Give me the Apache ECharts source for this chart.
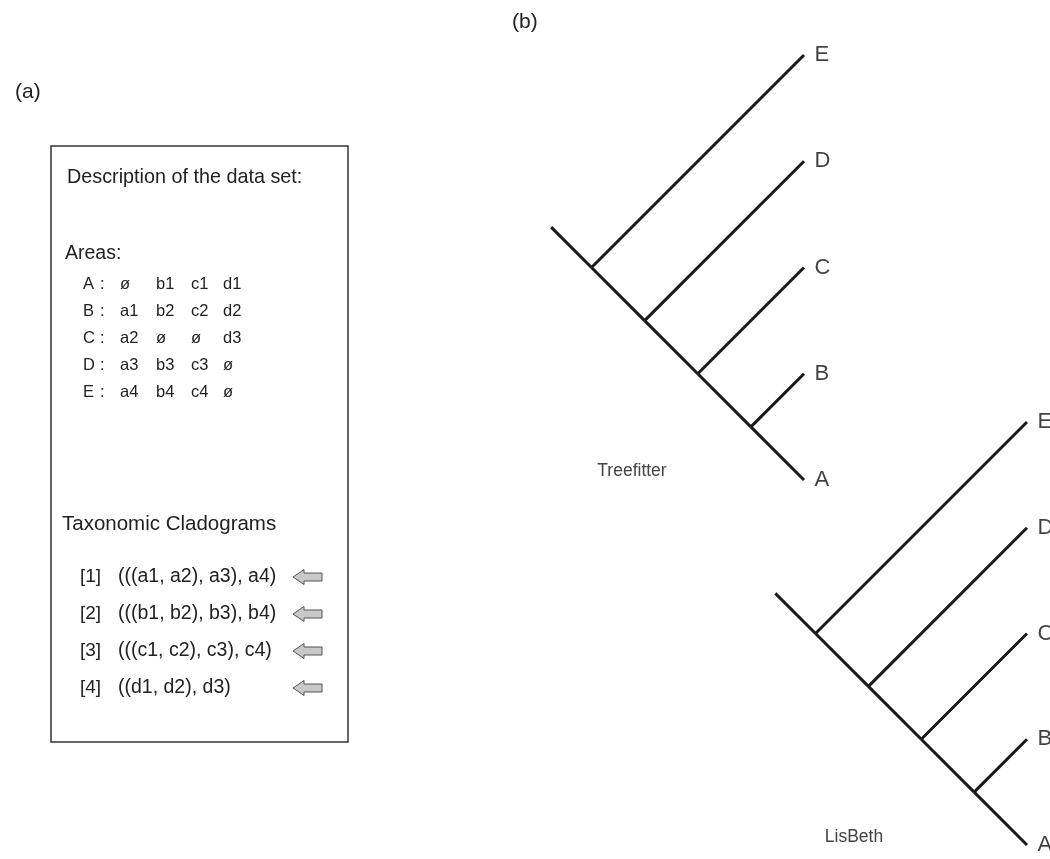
<!DOCTYPE html>
<html><head><meta charset="utf-8">
<script src="https://cdn.jsdelivr.net/npm/echarts@6/dist/echarts.min.js"></script>
<style>html,body{margin:0;padding:0;background:#fff}#c{width:1050px;height:859px}</style>
</head><body><div id="c"></div>
<script>
// ---- data ----
const areaNames = ['A', 'B', 'C', 'D', 'E'];
const areaTaxa = [
  ['ø', 'b1', 'c1', 'd1'],
  ['a1', 'b2', 'c2', 'd2'],
  ['a2', 'ø', 'ø', 'd3'],
  ['a3', 'b3', 'c3', 'ø'],
  ['a4', 'b4', 'c4', 'ø']
];
const cladogramIds = ['[1]', '[2]', '[3]', '[4]'];
const cladograms = ['(((a1, a2), a3), a4)', '(((b1, b2), b3), b4)', '(((c1, c2), c3), c4)', '((d1, d2), d3)'];
const tipLabels = ['A', 'B', 'C', 'D', 'E'];
const treefitterTree = [[[['A', 'B'], 'C'], 'D'], 'E'];
const lisbethTree = [[[['A', 'B'], 'C'], 'D'], 'E'];
const treeNames = ['Treefitter', 'LisBeth'];
const rootStub = 0.38;

// ---- layout helpers ----
const FONT = '"Liberation Sans", Arial, Helvetica, sans-serif';
const TXT = '#222';

function layoutTree(tree) {
  const segs = [];
  function walk(node) {
    if (typeof node === 'string') {
      const r = tipLabels.indexOf(node);
      return { lo: r, hi: r, p: [0, r] };
    }
    const kids = node.map(walk);
    const lo = Math.min(...kids.map(k => k.lo));
    const hi = Math.max(...kids.map(k => k.hi));
    const p = [-(hi - lo) / 2, (hi + lo) / 2];
    kids.forEach(k => segs.push({ coords: [p, k.p] }));
    return { lo, hi, p };
  }
  const root = walk(tree);
  segs.push({ coords: [[root.p[0] - rootStub, root.p[1] + rootStub], root.p] });
  return segs;
}

function txt(x, y, text, size, extra) {
  return {
    type: 'text', x, y, silent: true,
    style: Object.assign({
      text, fontSize: size, fontFamily: FONT, fill: TXT,
      align: 'left', verticalAlign: 'middle',
      textAlign: 'left', textVerticalAlign: 'middle'
    }, extra || {})
  };
}

const graphics = [];
graphics.push({
  type: 'rect', silent: true, z: 0,
  shape: { x: 51, y: 146, width: 297, height: 596 },
  style: { fill: '#fff', stroke: '#333', lineWidth: 1.5 }
});
graphics.push(txt(15, 92, '(a)', 21));
graphics.push(txt(512, 22, '(b)', 21));
graphics.push(txt(67, 178, 'Description of the data set:', 19.8));
graphics.push(txt(65, 254, 'Areas:', 19.5));
const colX = [120, 156, 191, 223];
areaNames.forEach((a, i) => {
  const y = 284 + 27 * i;
  graphics.push(txt(83, y, a, 16.5));
  graphics.push(txt(100, y, ':', 16.5));
  areaTaxa[i].forEach((t, j) => graphics.push(txt(colX[j], y, t, 16.5)));
});
graphics.push(txt(62, 524, 'Taxonomic Cladograms', 20.5));
cladograms.forEach((c, i) => {
  const y = 577 + 37 * i;
  graphics.push(txt(80, y, cladogramIds[i], 19));
  graphics.push(txt(118, y, c, 19.5));
  graphics.push({
    type: 'polygon', silent: true,
    shape: { points: [[293, y], [304, y - 7.5], [304, y - 4], [322, y - 4], [322, y + 4], [304, y + 4], [304, y + 7.5]] },
    style: { fill: '#c8c8c8', stroke: '#555', lineWidth: 1 }
  });
});
graphics.push(txt(632, 471, treeNames[0], 17.5, { align: 'center', textAlign: 'center', fill: '#444' }));
graphics.push(txt(854, 837, treeNames[1], 17.5, { align: 'center', textAlign: 'center', fill: '#444' }));

const trees = [treefitterTree, lisbethTree];
// grid geometry: tip column x and A-tip y, unit = tip spacing in px
const gridPos = [
  { tipX: 804, aY: 480, unit: 106.25 },
  { tipX: 1027, aY: 845, unit: 105.75 }
];
const XMIN = -2.5, XMAX = 0.2, YMIN = -0.1, YMAX = 4.5;
const grids = [], xAxes = [], yAxes = [], series = [];
trees.forEach((tree, i) => {
  const g = gridPos[i];
  grids.push({
    left: g.tipX + XMIN * g.unit, width: (XMAX - XMIN) * g.unit,
    top: g.aY - YMAX * g.unit, height: (YMAX - YMIN) * g.unit
  });
  xAxes.push({ gridIndex: i, type: 'value', min: XMIN, max: XMAX, show: false });
  yAxes.push({ gridIndex: i, type: 'value', min: YMIN, max: YMAX, show: false });
  series.push({
    type: 'lines', coordinateSystem: 'cartesian2d', xAxisIndex: i, yAxisIndex: i,
    silent: true, clip: false,
    lineStyle: { color: '#1a1a1a', width: 3, opacity: 1, curveness: 0 },
    data: layoutTree(tree)
  });
  series.push({
    type: 'scatter', xAxisIndex: i, yAxisIndex: i, silent: true, clip: false,
    symbolSize: 1, itemStyle: { color: 'rgba(0,0,0,0)' },
    label: {
      show: true, position: 'right', distance: 10,
      formatter: p => p.data[2], fontSize: 22, fontFamily: FONT, color: '#111'
    },
    data: tipLabels.map((t, r) => [0, r, t])
  });
});

const chart = echarts.init(document.getElementById('c'), null, { renderer: 'canvas' });
chart.setOption({
  animation: false,
  backgroundColor: '#fff',
  grid: grids, xAxis: xAxes, yAxis: yAxes,
  series,
  graphic: graphics
});
</script></body></html>
